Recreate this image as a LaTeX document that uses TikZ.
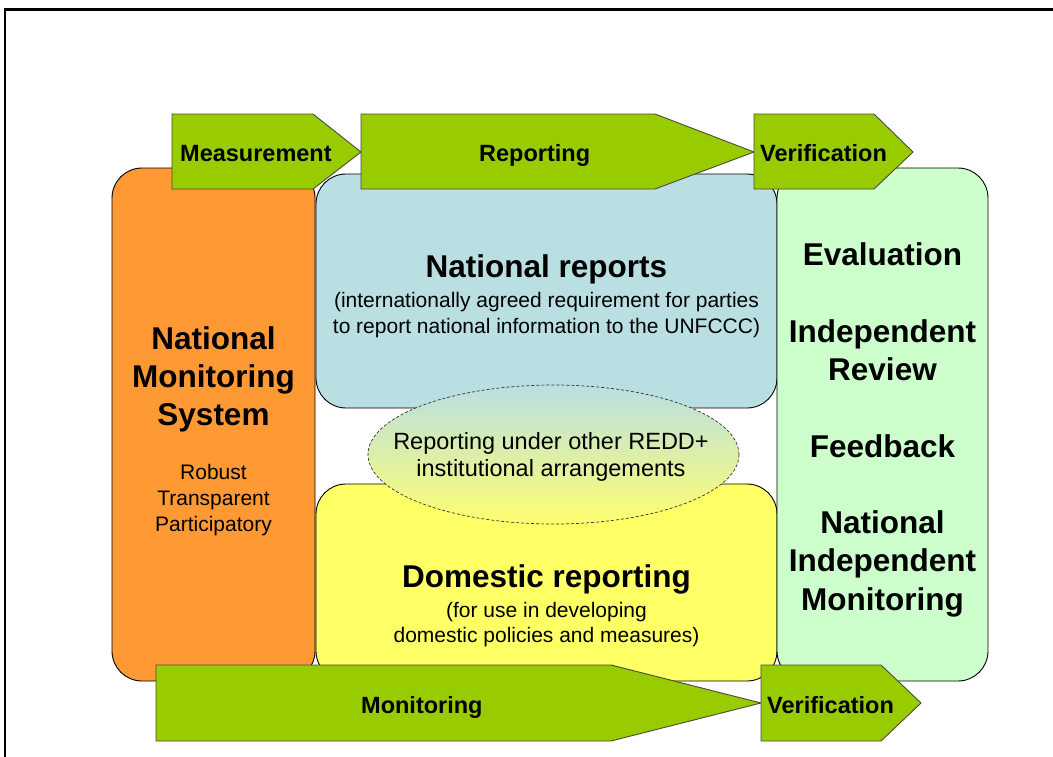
\documentclass[tikz,border=0pt]{standalone}
\usepackage{fontspec}
\setmainfont{Liberation Sans}
\usetikzlibrary{shapes.geometric}
\definecolor{arrowgreen}{HTML}{99CC00}
\definecolor{arrowline}{HTML}{4A4A3A}
\definecolor{nmsorange}{HTML}{FF9933}
\definecolor{natblue}{HTML}{B9DFE3}
\definecolor{domyellow}{HTML}{FFFF66}
\definecolor{verigreen}{HTML}{CCFFCC}
\definecolor{elltop}{HTML}{B9DFE3}
\definecolor{ellbot}{HTML}{FFFF70}
\newcommand\arrowfont{\fontsize{23.5}{28}\selectfont\bfseries}
\newcommand\headfont{\fontsize{31.5}{38}\selectfont\bfseries}
\newcommand\smallfont{\fontsize{21}{26}\selectfont}
\newcommand\ellfont{\fontsize{23.5}{27}\selectfont}
\begin{document}
\begin{tikzpicture}[x=1pt,y=-1pt,
  box/.style={rectangle, draw=black, line width=0.9pt, rounded corners=30pt, inner sep=0pt},
  arrowshape/.style={fill=arrowgreen, draw=arrowline, line width=0.9pt, line join=miter},
  arrowlabel/.style={inner sep=0pt, anchor=base west, font=\arrowfont},
  headline/.style={inner sep=0pt, anchor=base, font=\headfont},
  smallline/.style={inner sep=0pt, anchor=base, font=\smallfont},
  ellline/.style={inner sep=0pt, anchor=base, font=\ellfont}]
\useasboundingbox (0,0) rectangle (1053,756);
\clip (0,0) rectangle (1053,756);
\fill[white] (0,0) rectangle (1053,756);
% frame
\draw[line width=2.5pt] (5,9.5) rectangle (1080,790);
% boxes
\node[box, fill=nmsorange, minimum width=203, minimum height=513] (nms) at (213.5,424.5) {};
\node[box, fill=natblue, minimum width=461, minimum height=234] (natrep) at (546.5,291) {};
\node[box, fill=domyellow, minimum width=461, minimum height=197] (domrep) at (546.5,582.5) {};
\node[box, fill=verigreen, minimum width=211, minimum height=513] (verbox) at (882.5,424.5) {};
% ellipse
\node[ellipse, draw=black!80, line width=0.7pt, dash pattern=on 3pt off 2pt,
  top color=elltop, bottom color=ellbot, minimum width=371, minimum height=139, inner sep=0pt] (redd) at (553.5,454.5) {};
% top arrows
\draw[arrowshape] (172,114) -- (313,114) -- (361,152) -- (313,189) -- (172,189) -- cycle;
\draw[arrowshape] (361,114) -- (655,114) -- (754,152) -- (655,189) -- (361,189) -- cycle;
\draw[arrowshape] (754,114) -- (874,114) -- (913,152) -- (874,189) -- (754,189) -- cycle;
% bottom arrows
\draw[arrowshape] (156,665) -- (611,665) -- (761,703) -- (611,741) -- (156,741) -- cycle;
\draw[arrowshape] (761,665) -- (881,665) -- (921,703) -- (881,741) -- (761,741) -- cycle;
% arrow labels
\node[arrowlabel] (lmeas) at (180,161) {Measurement};
\node[arrowlabel] (lrep) at (479,161) {Reporting};
\node[arrowlabel] (lvert) at (760,161) {Verification};
\node[arrowlabel] (lmon) at (361,713) {Monitoring};
\node[arrowlabel] (lverb) at (767,713) {Verification};
% left box text
\node[headline] (nms1) at (213.5,349) {National};
\node[headline] (nms2) at (213.5,387) {Monitoring};
\node[headline] (nms3) at (213.5,425) {System};
\node[smallline] (nms4) at (213.5,479) {Robust};
\node[smallline] (nms5) at (213.5,505) {Transparent};
\node[smallline] (nms6) at (213.5,531) {Participatory};
% blue box text
\node[headline] (nr1) at (546.5,277) {National reports};
\node[smallline] (nr2) at (546.5,307) {(internationally agreed requirement for parties};
\node[smallline] (nr3) at (546.5,333) {to report national information to the UNFCCC)};
% ellipse text
\node[ellline] (el1) at (551,449) {Reporting under other REDD+};
\node[ellline] (el2) at (551,476) {institutional arrangements};
% yellow box text
\node[headline] (dr1) at (546.5,587) {Domestic reporting};
\node[smallline] (dr2) at (546.5,617) {(for use in developing};
\node[smallline] (dr3) at (546.5,642) {domestic policies and measures)};
% green box text
\node[headline] (v1) at (882.5,265) {Evaluation};
\node[headline] (v2) at (882.5,342) {Independent};
\node[headline] (v3) at (882.5,380) {Review};
\node[headline] (v4) at (882.5,457) {Feedback};
\node[headline] (v5) at (882.5,533) {National};
\node[headline] (v6) at (882.5,571) {Independent};
\node[headline] (v7) at (882.5,610) {Monitoring};
\end{tikzpicture}
\end{document}
